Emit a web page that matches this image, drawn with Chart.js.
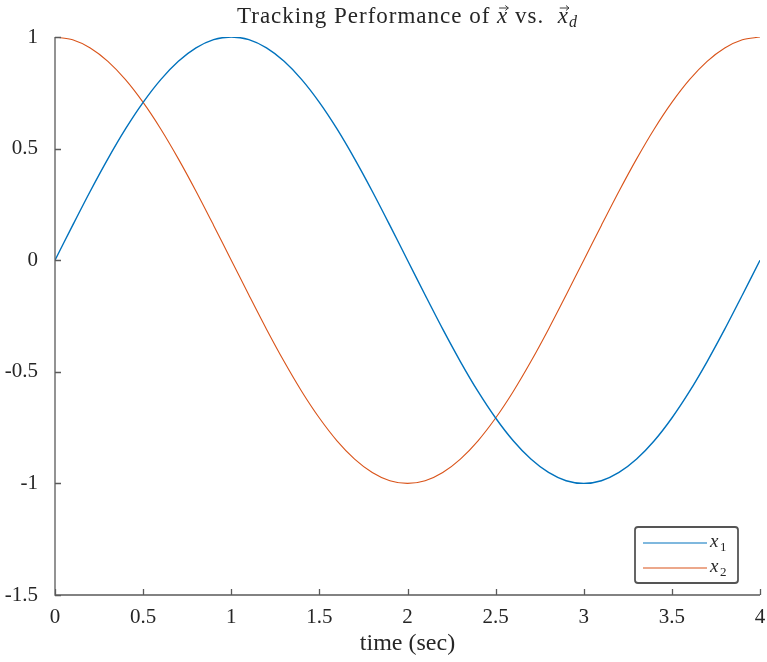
<!DOCTYPE html>
<html>
<head>
<meta charset="utf-8">
<script src="https://cdn.jsdelivr.net/npm/chart.js@4"></script>
<style>
  html, body { margin: 0; padding: 0; background: #fff; }
  #wrap { width: 767px; height: 662px; }
</style>
</head>
<body>
<div id="wrap"><canvas id="myChart"></canvas></div>
<script>
const canvas = document.getElementById('myChart')

// sampled time (sec)
const time = [0, 0.1, 0.2, 0.3, 0.4, 0.5, 0.6, 0.7, 0.8, 0.9,
  1, 1.1, 1.2, 1.3, 1.4, 1.5, 1.6, 1.7, 1.8, 1.9,
  2, 2.1, 2.2, 2.3, 2.4, 2.5, 2.6, 2.7, 2.8, 2.9,
  3, 3.1, 3.2, 3.3, 3.4, 3.5, 3.6, 3.7, 3.8, 3.9, 4]

// state x1
const x1 = [0, 0.156, 0.309, 0.454, 0.588, 0.707, 0.809, 0.891, 0.951, 0.988,
  1, 0.988, 0.951, 0.891, 0.809, 0.707, 0.588, 0.454, 0.309, 0.156,
  0, -0.156, -0.309, -0.454, -0.588, -0.707, -0.809, -0.891, -0.951, -0.988,
  -1, -0.988, -0.951, -0.891, -0.809, -0.707, -0.588, -0.454, -0.309, -0.156, 0]

// state x2
const x2 = [1, 0.988, 0.951, 0.891, 0.809, 0.707, 0.588, 0.454, 0.309, 0.156,
  0, -0.156, -0.309, -0.454, -0.588, -0.707, -0.809, -0.891, -0.951, -0.988,
  -1, -0.988, -0.951, -0.891, -0.809, -0.707, -0.588, -0.454, -0.309, -0.156,
  0, 0.156, 0.309, 0.454, 0.588, 0.707, 0.809, 0.891, 0.951, 0.988, 1]

const xTicks = [0, 0.5, 1, 1.5, 2, 2.5, 3, 3.5, 4]
const yTicks = [-1.5, -1, -0.5, 0, 0.5, 1]
const seriesNames = ['x1', 'x2']

const serif = '"Liberation Serif", "DejaVu Serif", serif'
const axisColor = '#5a5a5a'
const textColor = '#262626'

// title with italic vector symbols
const titlePlugin = {
    id: 'mathTitle',
    afterDraw(chart) {
        const ctx = chart.ctx
        const area = chart.chartArea
        const parts = [
            { t: 'Tracking Performance of ', f: '23px ' + serif },
            { t: 'x', f: 'italic 23px ' + serif, vec: true },
            { t: ' vs.  ', f: '23px ' + serif },
            { t: 'x', f: 'italic 23px ' + serif, vec: true },
            { t: 'd', f: 'italic 16px ' + serif, sub: true }
        ]
        ctx.save()
        ctx.letterSpacing = '1px'
        let total = 0
        for (const p of parts) { ctx.font = p.f; p.w = ctx.measureText(p.t).width; total += p.w }
        let x = (area.left + area.right) / 2 - total / 2
        const base = 23
        ctx.fillStyle = textColor
        ctx.strokeStyle = textColor
        ctx.textBaseline = 'alphabetic'
        for (const p of parts) {
            ctx.font = p.f
            ctx.fillText(p.t, x, p.sub ? base + 4 : base)
            if (p.vec) {
                // small arrow over the symbol
                const ay = base - 15, ax0 = x + 2, ax1 = x + p.w
                ctx.lineWidth = 0.9
                ctx.beginPath()
                ctx.moveTo(ax0, ay); ctx.lineTo(ax1, ay)
                ctx.moveTo(ax1 - 3, ay - 2.5); ctx.lineTo(ax1, ay); ctx.lineTo(ax1 - 3, ay + 2.5)
                ctx.stroke()
            }
            x += p.w
        }
        ctx.restore()
    }
}

// axis lines with inward tick marks, box off
const axesPlugin = {
    id: 'matAxes',
    afterDatasetsDraw(chart) {
        const ctx = chart.ctx
        const { left, right, top, bottom } = chart.chartArea
        const xs = chart.scales.x, ys = chart.scales.y
        ctx.save()
        ctx.strokeStyle = axisColor
        ctx.lineWidth = 1.3
        ctx.beginPath()
        ctx.moveTo(left, top); ctx.lineTo(left, bottom); ctx.lineTo(right, bottom)
        for (const v of xTicks) {
            const px = Math.round(xs.getPixelForValue(v)) + 0.5
            ctx.moveTo(px, bottom); ctx.lineTo(px, bottom - 6)
        }
        for (const v of yTicks) {
            const py = Math.round(ys.getPixelForValue(v)) + 0.5
            ctx.moveTo(left, py); ctx.lineTo(left + 6, py)
        }
        ctx.stroke()
        ctx.restore()
    }
}

// legend box in the lower right corner
const legendPlugin = {
    id: 'boxLegend',
    afterDraw(chart) {
        const ctx = chart.ctx
        const { right, bottom } = chart.chartArea
        const bw = 103, bh = 56
        const bx = right - 22 - bw, by = bottom - 12 - bh
        ctx.save()
        ctx.fillStyle = '#fff'
        ctx.strokeStyle = '#555'
        ctx.lineWidth = 1.8
        ctx.beginPath()
        ctx.roundRect(bx, by, bw, bh, 3)
        ctx.fill()
        ctx.stroke()
        chart.data.datasets.forEach((ds, i) => {
            const ly = by + 16 + i * 25
            ctx.strokeStyle = ds.borderColor
            ctx.lineWidth = 1.2
            ctx.beginPath()
            ctx.moveTo(bx + 8, ly); ctx.lineTo(bx + 72, ly)
            ctx.stroke()
            ctx.fillStyle = textColor
            ctx.textBaseline = 'alphabetic'
            ctx.font = 'italic 19px ' + serif
            ctx.fillText(ds.label[0], bx + 75, ly + 4)
            ctx.font = '13px ' + serif
            ctx.fillText(ds.label.slice(1), bx + 85, ly + 8)
        })
        ctx.restore()
    }
}

const config = {
    type: 'line',
    data: {
        datasets: [
            {
                label: seriesNames[0],
                data: time.map((t, i) => ({ x: t, y: x1[i] })),
                borderColor: '#0072BD',
                borderWidth: 1.4,
                pointRadius: 0,
                tension: 0.3
            },
            {
                label: seriesNames[1],
                data: time.map((t, i) => ({ x: t, y: x2[i] })),
                borderColor: '#D95319',
                borderWidth: 1.1,
                pointRadius: 0,
                tension: 0.3
            }
        ]
    },
    options: {
        responsive: false,
        animation: false,
        layout: { padding: { left: 0, right: 7, top: 37, bottom: 0 } },
        plugins: {
            legend: { display: false },
            tooltip: { enabled: false },
            title: { display: false }
        },
        scales: {
            x: {
                type: 'linear',
                min: 0, max: 4,
                afterBuildTicks: s => { s.ticks = xTicks.map(v => ({ value: v })) },
                afterFit: s => { s.height = 67; s.paddingLeft = 0; s.paddingRight = 0 },
                grid: { display: false },
                border: { display: false },
                ticks: {
                    color: textColor, font: { family: serif, size: 21 }, padding: 2, maxRotation: 0,
                    callback: v => String(v)
                },
                title: { display: true, text: 'time (sec)', color: textColor, font: { family: serif, size: 24 }, padding: { top: 4 } }
            },
            y: {
                type: 'linear',
                min: -1.5, max: 1,
                afterBuildTicks: s => { s.ticks = yTicks.map(v => ({ value: v })) },
                afterFit: s => { s.width = 55; s.paddingTop = 0; s.paddingBottom = 0 },
                grid: { display: false },
                border: { display: false },
                ticks: {
                    color: textColor, font: { family: serif, size: 21 }, padding: 9,
                    callback: v => String(v)
                }
            }
        }
    },
    plugins: [axesPlugin, legendPlugin, titlePlugin]
}

canvas.width = 767
canvas.height = 662
const myChart = new Chart(canvas, config)
</script>
</body>
</html>
